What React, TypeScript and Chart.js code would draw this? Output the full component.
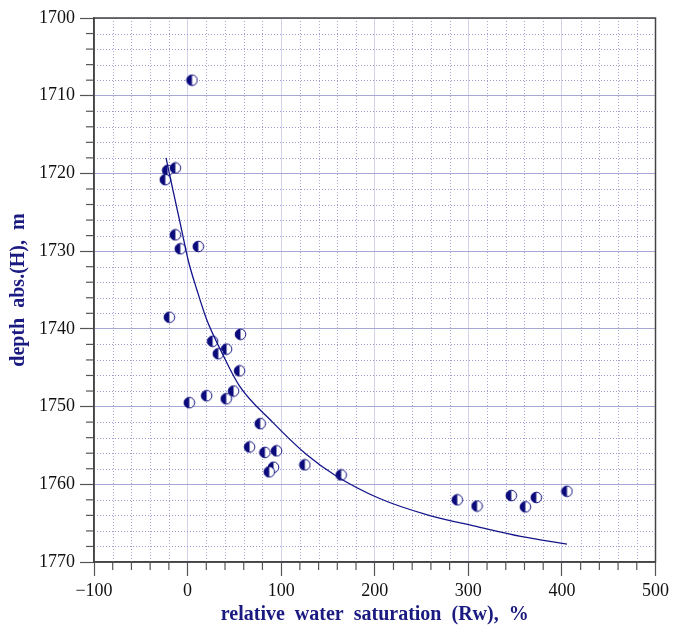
import React, { useEffect, useRef } from "react";
import { Chart, registerables } from "chart.js";

Chart.register(...registerables);

const pointsX = [4.7, -21.3, -13.1, -23.8, -13.1, -7.8, 11.4, -19.5, 56.5, 26.7, 41.6, 32.8, 55.5, 49.1, 41.3, 20.3, 1.8, 77.6, 66.2, 82.6, 95.0, 91.8, 87.2, 125.3, 164.1, 288.2, 309.3, 345.9, 360.9, 372.6, 405.4];
const pointsY = [1708.0, 1719.6, 1719.3, 1720.8, 1727.9, 1729.7, 1729.4, 1738.5, 1740.7, 1741.6, 1742.6, 1743.2, 1745.4, 1748.0, 1749.0, 1748.6, 1749.5, 1752.2, 1755.2, 1755.9, 1755.7, 1757.8, 1758.4, 1757.5, 1758.8, 1762.0, 1762.8, 1761.45, 1762.9, 1761.7, 1760.9];

const curveX = [-23, -19.5, -11.7, -4, 0.7, 10, 20.7, 35.6, 55.2, 90.8, 126.4, 158.4, 204.6, 258, 311.4, 356, 405.4];
const curveY = [1718.0, 1720.0, 1724.3, 1728.6, 1731.2, 1735.0, 1738.9, 1742.8, 1747.3, 1752.0, 1756.1, 1758.9, 1761.8, 1764.0, 1765.5, 1766.7, 1767.7];

const xTicks = [-100, 0, 100, 200, 300, 400, 500];
const yTicks = [1700, 1710, 1720, 1730, 1740, 1750, 1760, 1770];
const xMinorStep = 20;
const yMinorStep = 2;

const xTitle = "relative  water  saturation  (Rw),  %";
const yTitle = "depth  abs.(H),  m";

const NAVY = "#0a0a7a";

function makeMarker(): HTMLCanvasElement {
  const c = document.createElement("canvas");
  c.width = 13;
  c.height = 13;
  const g = c.getContext("2d")!;
  const cx = 6.5, cy = 6.5, r = 5.3;
  g.beginPath();
  g.arc(cx, cy, r, 0, Math.PI * 2);
  g.fillStyle = "#ffffff";
  g.fill();
  g.beginPath();
  g.moveTo(cx, cy - r);
  g.arc(cx, cy, r, -Math.PI / 2, Math.PI / 2, true);
  g.closePath();
  g.fillStyle = NAVY;
  g.fill();
  g.beginPath();
  g.arc(cx, cy, r, 0, Math.PI * 2);
  g.strokeStyle = NAVY;
  g.lineWidth = 1;
  g.stroke();
  return c;
}

const minorPlugin = {
  id: "minorGrid",
  beforeDatasetsDraw(chart: any) {
    const { ctx, chartArea, scales } = chart;
    const xs = scales.x;
    const ys = scales.y;
    ctx.save();
    ctx.lineWidth = 1;
    ctx.setLineDash([1, 2]);
    for (let v = xs.min; v <= xs.max + 1e-6; v += xMinorStep) {
      if (Math.abs(v % 100) < 1e-6) continue;
      const px = Math.round(xs.getPixelForValue(v)) + 0.5;
      ctx.strokeStyle = "#a6a6d2";
      ctx.beginPath();
      ctx.moveTo(px, chartArea.top);
      ctx.lineTo(px, chartArea.bottom);
      ctx.stroke();
    }
    for (let v = ys.min; v <= ys.max + 1e-6; v += yMinorStep) {
      if (Math.abs(v % 10) < 1e-6) continue;
      const py = Math.round(ys.getPixelForValue(v)) + 0.5;
      ctx.strokeStyle = "#9a9acc";
      ctx.beginPath();
      ctx.moveTo(chartArea.left, py);
      ctx.lineTo(chartArea.right, py);
      ctx.stroke();
    }
    ctx.setLineDash([]);
    ctx.strokeStyle = "#555555";
    ctx.lineWidth = 1.2;
    for (let v = xs.min; v <= xs.max + 1e-6; v += xMinorStep) {
      if (Math.abs(v % 100) < 1e-6) continue;
      const px = xs.getPixelForValue(v);
      ctx.beginPath();
      ctx.moveTo(px, chartArea.bottom);
      ctx.lineTo(px, chartArea.bottom + 8);
      ctx.stroke();
    }
    for (let v = ys.min; v <= ys.max + 1e-6; v += yMinorStep) {
      if (Math.abs(v % 10) < 1e-6) continue;
      const py = ys.getPixelForValue(v);
      ctx.beginPath();
      ctx.moveTo(chartArea.left - 8, py);
      ctx.lineTo(chartArea.left, py);
      ctx.stroke();
    }
    ctx.restore();
  },
  afterDraw(chart: any) {
    const { ctx, chartArea } = chart;
    ctx.save();
    ctx.strokeStyle = "#444444";
    ctx.lineWidth = 1.5;
    ctx.strokeRect(chartArea.left, chartArea.top, chartArea.right - chartArea.left, chartArea.bottom - chartArea.top);
    ctx.restore();
  },
};

export default function App() {
  const ref = useRef<HTMLCanvasElement | null>(null);
  useEffect(() => {
    document.body.style.margin = "0";
    const marker = makeMarker();
    const chart = new Chart(ref.current!, {
      type: "scatter",
      data: {
        datasets: [
          {
            type: "line",
            data: curveX.map((x, i) => ({ x, y: curveY[i] })),
            borderColor: "#14148a",
            borderWidth: 1.3,
            pointRadius: 0,
            fill: false,
            cubicInterpolationMode: "monotone",
            order: 0,
          } as any,
          {
            type: "scatter",
            data: pointsX.map((x, i) => ({ x, y: pointsY[i] })),
            pointStyle: marker as any,
            pointRadius: 6,
            order: 1,
          },
        ],
      },
      options: {
        responsive: false,
        animation: false,
        layout: { padding: { left: 0, right: 17, top: 18, bottom: 0 } },
        plugins: { legend: { display: false }, tooltip: { enabled: false } },
        scales: {
          x: {
            type: "linear",
            min: -100,
            max: 500,
            afterBuildTicks: (s: any) => {
              s.ticks = xTicks.map((v) => ({ value: v }));
            },
            afterFit: (s: any) => {
              s.height = 65;
            },
            ticks: {
              color: "#111111",
              font: { family: "Liberation Serif", size: 18 },
              padding: 4,
              maxRotation: 0,
              callback: (v: any) => String(v).replace("-", "\u2212"),
            },
            grid: { color: "#d2d2ee", lineWidth: 1, tickLength: 14, tickColor: "#555555", tickWidth: 1.2 },
            border: { color: "#444444", width: 1.5 },
            title: {
              display: true,
              text: xTitle,
              color: "#1a1a80",
              font: { family: "Liberation Serif", size: 20, weight: "bold" },
              padding: { top: 0, bottom: 0 },
            },
          },
          y: {
            type: "linear",
            reverse: true,
            min: 1700,
            max: 1770,
            afterBuildTicks: (s: any) => {
              s.ticks = yTicks.map((v) => ({ value: v }));
            },
            afterFit: (s: any) => {
              s.width = 94;
            },
            ticks: {
              color: "#111111",
              font: { family: "Liberation Serif", size: 18 },
              padding: 5,
              callback: (v: any) => String(v),
            },
            grid: { color: "#a8a8d6", lineWidth: 1, tickLength: 14, tickColor: "#555555", tickWidth: 1.2 },
            border: { color: "#444444", width: 1.5 },
            title: {
              display: true,
              text: yTitle,
              color: "#1a1a80",
              font: { family: "Liberation Serif", size: 20, weight: "bold" },
              padding: { top: 7, bottom: 0 },
            },
          },
        },
      },
      plugins: [minorPlugin],
    });
    return () => chart.destroy();
  }, []);
  return (
    <div style={{ position: "absolute", left: 0, top: 0, width: 673, height: 627 }}>
      <canvas ref={ref} width={673} height={627} />
    </div>
  );
}
